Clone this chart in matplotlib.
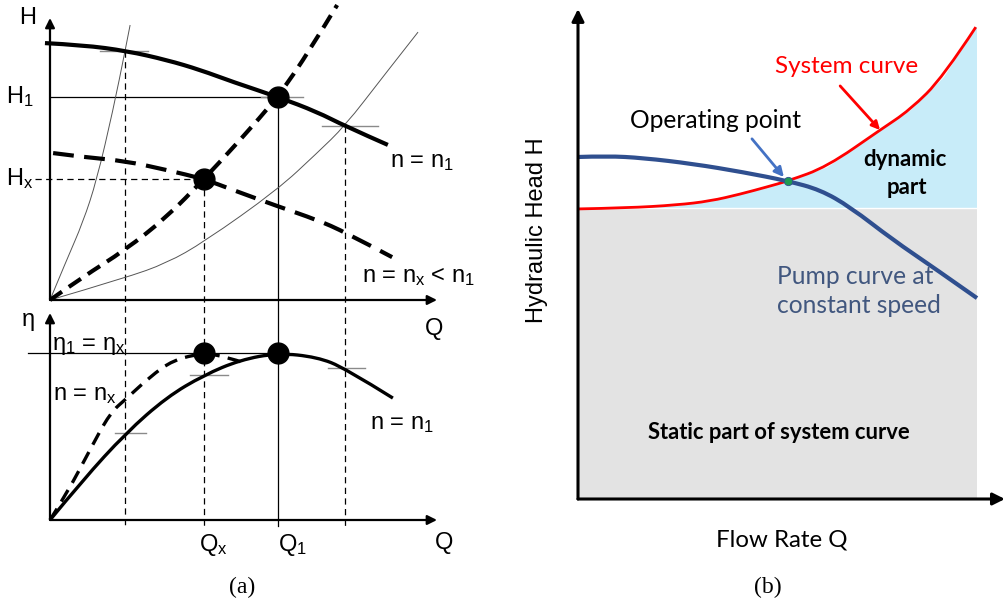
import matplotlib
matplotlib.use("Agg")
import matplotlib.pyplot as plt
from matplotlib.path import Path
from matplotlib.patches import PathPatch

plt.rcParams['font.family'] = ['Liberation Sans', 'DejaVu Sans']
plt.rcParams['mathtext.fontset'] = 'custom'
plt.rcParams['mathtext.rm'] = 'Liberation Sans'
plt.rcParams['mathtext.it'] = 'Liberation Sans:italic'

W, HPX = 1005, 603

##############################################################################
# data, panel (a): Q and H / eta normalised to the axis arrows
##############################################################################

# pump curve n = n1
pump1_q = [-0.013, 0.085, 0.199, 0.302, 0.388, 0.473, 0.589, 0.690, 0.762, 0.873]
pump1_h = [0.911, 0.904, 0.883, 0.851, 0.816, 0.773, 0.720, 0.667, 0.617, 0.550]
# pump curve n = nx < n1
pumpx_q = [0.008, 0.085, 0.194, 0.302, 0.398, 0.473, 0.587, 0.690, 0.762, 0.884]
pumpx_h = [0.521, 0.507, 0.493, 0.461, 0.429, 0.390, 0.333, 0.284, 0.241, 0.152]
# system curve (thick dashed)
sys_q = [0.0, 0.085, 0.194, 0.302, 0.398, 0.491, 0.589, 0.672, 0.742]
sys_h = [0.0, 0.082, 0.177, 0.294, 0.429, 0.567, 0.720, 0.887, 1.046]
# thin similarity parabolas
parab1_q = [0.0, 0.043, 0.085, 0.121, 0.163, 0.194, 0.207]
parab1_h = [0.0, 0.142, 0.275, 0.426, 0.674, 0.883, 0.975]
parab2_q = [0.0, 0.194, 0.302, 0.398, 0.587, 0.690, 0.762, 0.860, 0.951]
parab2_h = [0.0, 0.078, 0.131, 0.206, 0.390, 0.521, 0.617, 0.791, 0.950]

# efficiency curves
eff1_q = [0.0, 0.085, 0.196, 0.302, 0.398, 0.491, 0.589, 0.690, 0.762, 0.886]
eff1_e = [0.0, 0.193, 0.420, 0.594, 0.700, 0.773, 0.807, 0.787, 0.734, 0.589]
effx_q = [0.0, 0.044, 0.103, 0.155, 0.199, 0.258, 0.318, 0.398, 0.457, 0.504]
effx_e = [0.0, 0.130, 0.338, 0.517, 0.589, 0.691, 0.773, 0.807, 0.787, 0.758]

q_x, q_1 = 0.398, 0.589
h_x, h_1 = 0.429, 0.720
eta_1 = 0.807
# dashed guide verticals (Q, H where they start)
guide_q = [0.194, 0.398, 0.762]
guide_h = [0.883, 0.429, 0.617]
# short grey marks (q from, q to, level)
hmarks = [(0.129, 0.253, 0.883), (0.545, 0.654, 0.720), (0.702, 0.847, 0.617)]
emarks = [(0.168, 0.248, 0.420), (0.362, 0.460, 0.700), (0.718, 0.814, 0.734)]

##############################################################################
# data, panel (b)
##############################################################################

pumpb_q = [0.0, 0.073, 0.163, 0.288, 0.414, 0.526, 0.607, 0.682, 0.789, 0.890, 1.0]
pumpb_h = [0.698, 0.700, 0.696, 0.684, 0.667, 0.649, 0.631, 0.596, 0.529, 0.473, 0.410]
sysb_q = [0.0, 0.123, 0.248, 0.331, 0.406, 0.474, 0.526, 0.624, 0.757, 0.832, 0.915, 0.997]
sysb_h = [0.592, 0.594, 0.600, 0.608, 0.622, 0.637, 0.649, 0.678, 0.753, 0.794, 0.861, 0.963]
static_h = 0.594
op_q, op_h = 0.526, 0.649


def axes_px(fig, x0, x1, ybot, ytop):
    ax = fig.add_axes([x0 / W, 1 - ybot / HPX, (x1 - x0) / W, (ybot - ytop) / HPX])
    ax.set_xlim(0, 1)
    ax.set_ylim(0, 1)
    ax.axis('off')
    return ax


def arrow(ax, start, end, lw=1.6, ms=14, color='k'):
    ax.annotate('', xy=end, xytext=start, annotation_clip=False,
                arrowprops=dict(arrowstyle='-|>', color=color, lw=lw,
                                mutation_scale=ms, shrinkA=0, shrinkB=0))


def smooth(ax, xs, ys, **kw):
    # quadratic bezier through the read points (midpoints as knots)
    pts = list(zip(xs, ys))
    verts = [pts[0]]
    codes = [Path.MOVETO]
    for i in range(1, len(pts) - 1):
        if i < len(pts) - 2:
            end = ((pts[i][0] + pts[i + 1][0]) / 2, (pts[i][1] + pts[i + 1][1]) / 2)
        else:
            end = pts[-1]
        verts += [pts[i], end]
        codes += [Path.CURVE3, Path.CURVE3]
    patch = PathPatch(Path(verts, codes), facecolor='none', clip_on=False,
                      capstyle='butt', zorder=2.5, **kw)
    ax.add_patch(patch)


fig = plt.figure(figsize=(W / 100, HPX / 100), dpi=100)
fig.patch.set_facecolor('white')

###############################################################################
# (a) upper: head
#===========================
ax1 = axes_px(fig, 50, 437, 300, 18)
arrow(ax1, (0, 0), (0, 1.0))
arrow(ax1, (0, 0), (1.0, 0))

smooth(ax1, parab1_q, parab1_h, edgecolor='#555555', lw=0.7)
smooth(ax1, parab2_q, parab2_h, edgecolor='#555555', lw=0.7)
ax1.plot([0, q_1], [h_1, h_1], color='k', lw=0.9, clip_on=False)
ax1.plot([-0.039, q_x], [h_x, h_x], color='k', lw=0.9, ls=(0, (5, 3.5)), clip_on=False)
for q0, q1, lev in hmarks:
    ax1.plot([q0, q1], [lev, lev], color='#8a8a8a', lw=1.0, clip_on=False)

low = (300 - 526) / 282.0
for q, h in zip(guide_q, guide_h):
    ax1.plot([q, q], [h, low], color='k', lw=0.9, ls=(0, (5, 3.5)), clip_on=False)
ax1.plot([q_1, q_1], [h_1, low], color='k', lw=0.9, clip_on=False)

smooth(ax1, pump1_q, pump1_h, edgecolor='k', lw=3)
smooth(ax1, pumpx_q, pumpx_h, edgecolor='k', lw=3, ls=(0, (5, 2.5)))
smooth(ax1, sys_q, sys_h, edgecolor='k', lw=3, ls=(0, (3.5, 2)))
ax1.plot([q_x, q_1], [h_x, h_1], 'o', color='k', ms=15, clip_on=False, zorder=3)

fs = 17
ax1.text(-0.057, 1.0, 'H', fontsize=fs, ha='center', va='center')
ax1.text(-0.078, h_1, 'H$_1$', fontsize=fs, ha='center', va='center')
ax1.text(-0.078, h_x, 'H$_\\mathrm{x}$', fontsize=fs, ha='center', va='center')
ax1.text(0.878, 0.472, 'n = n$_1$', fontsize=fs, ha='left', va='baseline')
ax1.text(0.806, 0.064, 'n = n$_\\mathrm{x}$ < n$_1$', fontsize=fs, ha='left', va='baseline')
ax1.text(0.969, -0.124, 'Q', fontsize=fs, ha='left', va='baseline')

###############################################################################
# (a) lower: efficiency
#===========================
ax2 = axes_px(fig, 50, 437, 520, 313)
arrow(ax2, (0, 0), (0, 1.0))
arrow(ax2, (0, 0), (1.0, 0))

ax2.plot([-0.057, q_1], [eta_1, eta_1], color='k', lw=0.9, clip_on=False)
for q0, q1, lev in emarks:
    ax2.plot([q0, q1], [lev, lev], color='#8a8a8a', lw=1.0, clip_on=False)
smooth(ax2, eff1_q, eff1_e, edgecolor='k', lw=2.4)
smooth(ax2, effx_q, effx_e, edgecolor='k', lw=2.4, ls=(0, (4, 2.5)))
ax2.plot([q_x, q_1], [eta_1, eta_1], 'o', color='k', ms=15, clip_on=False, zorder=3)

ax2.text(-0.072, 0.966, 'η', fontsize=fs, ha='left', va='center')
ax2.text(0.005, 0.821, 'η$_1$ = η$_\\mathrm{x}$', fontsize=fs, ha='left', va='baseline')
ax2.text(0.008, 0.580, 'n = n$_\\mathrm{x}$', fontsize=fs, ha='left', va='baseline')
ax2.text(0.827, 0.440, 'n = n$_1$', fontsize=fs, ha='left', va='baseline')
ax2.text(0.385, -0.150, 'Q$_\\mathrm{x}$', fontsize=fs, ha='left', va='baseline')
ax2.text(0.589, -0.150, 'Q$_1$', fontsize=fs, ha='left', va='baseline')
ax2.text(0.995, -0.140, 'Q', fontsize=fs, ha='left', va='baseline')
ax2.text(0.496, -0.328, '(a)', fontsize=17, ha='center', va='center',
         family='Liberation Serif')

###############################################################################
# (b) operating point
#===========================
ax3 = axes_px(fig, 578, 977, 499, 9)
ax3.fill_between([0, 1.0], [0, 0], [static_h, static_h], color='#e3e3e3', lw=0)
ax3.fill_between(sysb_q, static_h, sysb_h, color='#c8ecf9', lw=0)
ax3.fill_between([sysb_q[-1], 1.0], static_h, sysb_h[-1], color='#c8ecf9', lw=0)
ax3.plot([0, 1.0], [static_h, static_h], color='white', lw=1.0, zorder=1.5)
smooth(ax3, sysb_q, sysb_h, edgecolor='#ff0000', lw=2)
smooth(ax3, pumpb_q, pumpb_h, edgecolor='#2f4f8f', lw=3)
ax3.plot([op_q], [op_h], 'o', color='#1e9a50', ms=6, mec='#2f4f8f', mew=0.6, zorder=3)

arrow(ax3, (0, 0), (0, 1.0), lw=2.2, ms=18)
arrow(ax3, (0, 0), (1.07, 0), lw=2.2, ms=18)
arrow(ax3, (0.436, 0.735), (0.516, 0.657), lw=2, ms=14, color='#4472c4')
arrow(ax3, (0.657, 0.843), (0.757, 0.753), lw=2, ms=12, color='#ff0000')

fb = ['Lato', 'DejaVu Sans']
ax3.text(0.494, 0.882, 'System curve', fontsize=17.5, color='#ff0000', ha='left',
         va='center', family=fb)
ax3.text(0.130, 0.773, 'Operating point', fontsize=17.7, ha='left', va='center', family=fb)
ax3.text(0.820, 0.692, 'dynamic', fontsize=16, weight='bold', ha='center', va='center',
         family=fb)
ax3.text(0.825, 0.635, 'part', fontsize=16, weight='bold', ha='center', va='center',
         family=fb)
ax3.text(0.499, 0.455, 'Pump curve at', fontsize=17.7, color='#41577f', ha='left',
         va='center', family=fb)
ax3.text(0.499, 0.394, 'constant speed', fontsize=17.7, color='#41577f', ha='left',
         va='center', family=fb)
ax3.text(0.504, 0.135, 'Static part of system curve', fontsize=15.8, weight='bold',
         ha='center', va='center', family=fb)
ax3.text(0.511, -0.084, 'Flow Rate Q', fontsize=17.3, ha='center', va='center', family=fb)
ax3.text(-0.103, 0.549, 'Hydraulic Head H', fontsize=17, rotation=90, ha='center',
         va='center')
ax3.text(0.476, -0.180, '(b)', fontsize=17, ha='center', va='center',
         family='Liberation Serif')

fig.savefig('out.png', dpi=100)
